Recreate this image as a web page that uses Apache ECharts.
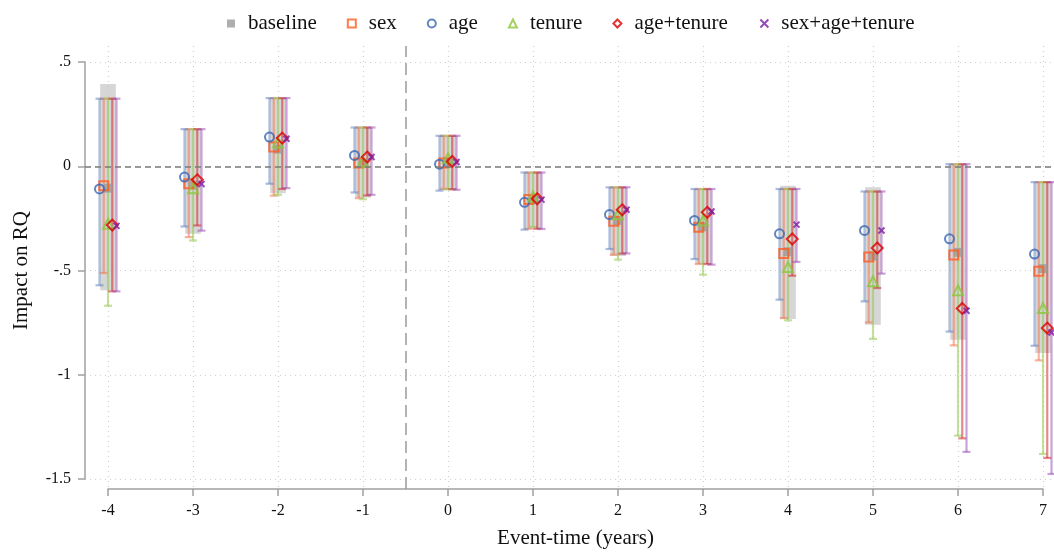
<!DOCTYPE html>
<html><head><meta charset="utf-8">
<script src="https://cdn.jsdelivr.net/npm/echarts@6/dist/echarts.min.js"></script>
<style>html,body{margin:0;padding:0;background:#fff}#c{width:1054px;height:554px}</style>
</head><body><div id="c"></div>
<script>
const times = [-4,-3,-2,-1,0,1,2,3,4,5,6,7];
const yTicks = [-1.5,-1,-0.5,0,0.5];
const yTickLabels = ['-1.5','-1','-.5','0','.5'];
const seriesNames = ['baseline','sex','age','tenure','age+tenure','sex+age+tenure'];

const baselineEst = [-0.105,-0.09,0.082,0.015,0.02,-0.16,-0.26,-0.29,-0.41,-0.43,-0.413,-0.491];
const baselineLo  = [-0.595,-0.324,-0.13,-0.15,-0.115,-0.30,-0.43,-0.47,-0.733,-0.760,-0.832,-0.896];
const baselineHi  = [0.395,0.178,0.327,0.186,0.146,-0.03,-0.10,-0.109,-0.093,-0.101,0.010,-0.076];

const ciHigh = [0.324,0.178,0.327,0.186,0.146,-0.030,-0.101,-0.109,-0.109,-0.121,0.010,-0.076];

const sexEst = [-0.094,-0.084,0.092,0.015,0.015,-0.160,-0.264,-0.292,-0.419,-0.435,-0.426,-0.504];
const sexLo  = [-0.512,-0.340,-0.141,-0.153,-0.108,-0.300,-0.424,-0.469,-0.728,-0.749,-0.859,-0.931];
const ageEst = [-0.109,-0.052,0.140,0.052,0.010,-0.173,-0.232,-0.260,-0.324,-0.308,-0.348,-0.421];
const ageLo  = [-0.571,-0.289,-0.084,-0.126,-0.117,-0.304,-0.397,-0.445,-0.640,-0.648,-0.793,-0.861];
const tenureEst = [-0.276,-0.105,0.114,0.023,0.039,-0.145,-0.230,-0.260,-0.483,-0.552,-0.595,-0.680];
const tenureLo  = [-0.669,-0.356,-0.137,-0.158,-0.110,-0.290,-0.448,-0.520,-0.739,-0.828,-1.292,-1.380];
const ageTenEst = [-0.282,-0.065,0.135,0.044,0.023,-0.156,-0.209,-0.221,-0.349,-0.392,-0.682,-0.776];
const ageTenLo  = [-0.600,-0.284,-0.109,-0.140,-0.110,-0.300,-0.419,-0.469,-0.525,-0.584,-1.305,-1.399];
const allEst = [-0.286,-0.085,0.132,0.044,0.020,-0.160,-0.209,-0.217,-0.280,-0.308,-0.693,-0.797];
const allLo  = [-0.600,-0.309,-0.105,-0.137,-0.113,-0.301,-0.418,-0.472,-0.459,-0.515,-1.370,-1.476];

const FONT = 'Liberation Serif';
const W = 1054, H = 554;
const xLeftPx = 108, xRightPx = 1043, axisLeft = 85;
const pxPerUnit = (xRightPx - xLeftPx) / 11;
const xMin = -4 - (xLeftPx - axisLeft) / pxPerUnit;
const xMax = 7 + (W - xRightPx) / pxPerUnit;

const models = [
  {name:'sex', est:sexEst, lo:sexLo, off:-0.05, color:'#ff5b1f', line:'rgba(244,120,80,0.55)', symbol:'rect', size:9},
  {name:'age', est:ageEst, lo:ageLo, off:-0.10, color:'#3a66b0', line:'rgba(90,125,190,0.5)', symbol:'circle', size:9},
  {name:'tenure', est:tenureEst, lo:tenureLo, off:0.0, color:'#8cc63f', line:'rgba(150,200,80,0.55)', symbol:'triangle', size:10},
  {name:'age+tenure', est:ageTenEst, lo:ageTenLo, off:0.05, color:'#dd0000', line:'rgba(210,40,40,0.55)', symbol:'diamond', size:11},
  {name:'sex+age+tenure', est:allEst, lo:allLo, off:0.10, color:'#7a1fa2', line:'rgba(150,70,180,0.5)', symbol:'path://M0,0L10,10M10,0L0,10', size:6}
];

function ciRender(off, color){
  return function(params, api){
    const t = api.value(0), lo = api.value(1), hi = api.value(2);
    const a = api.coord([t+off, hi]), b = api.coord([t+off, lo]);
    const st = {stroke:color, lineWidth:2.2};
    return {type:'group', children:[
      {type:'line', shape:{x1:a[0],y1:a[1],x2:b[0],y2:b[1]}, style:st},
      {type:'line', shape:{x1:a[0]-4,y1:a[1],x2:a[0]+4,y2:a[1]}, style:st},
      {type:'line', shape:{x1:b[0]-4,y1:b[1],x2:b[0]+4,y2:b[1]}, style:st}
    ]};
  };
}

const series = [];
series.push({type:'line', xAxisIndex:1, yAxisIndex:1, data:[], silent:true,
  markLine:{silent:true, symbol:'none', label:{show:false},
    lineStyle:{color:'#9a9a9a', type:[12,6], width:1.5},
    data:[{xAxis:-0.5}]}});
series.push({type:'custom', name:'baseline-ci', xAxisIndex:0, yAxisIndex:0, z:1,
  data: times.map((t,i)=>[t, baselineLo[i], baselineHi[i]]),
  encode:{x:0, y:[1,2]},
  renderItem:function(params, api){
    const t = api.value(0), lo = api.value(1), hi = api.value(2);
    const a = api.coord([t-0.092, hi]), b = api.coord([t+0.092, lo]);
    return {type:'rect', shape:{x:a[0], y:a[1], width:b[0]-a[0], height:b[1]-a[1]},
      style:{fill:'rgba(200,200,200,0.75)'}};
  },
  markLine:{silent:true, symbol:'none', label:{show:false},
    lineStyle:{color:'#7a7a7a', type:[6,4], width:1.5},
    data:[{yAxis:0}]}
});
models.forEach(m=>{
  series.push({type:'custom', name:m.name+'-ci', xAxisIndex:0, yAxisIndex:0, z:2,
    data: times.map((t,i)=>[t, m.lo[i], ciHigh[i]]),
    encode:{x:0, y:[1,2]},
    renderItem: ciRender(m.off, m.line)});
});
series.push({type:'scatter', name:'baseline', xAxisIndex:0, yAxisIndex:0, z:3,
  symbol:'rect', symbolSize:9,
  itemStyle:{color:'#9a9a9a'},
  data: times.map((t,i)=>[t, baselineEst[i]])});
models.forEach(m=>{
  series.push({type:'scatter', name:m.name, xAxisIndex:0, yAxisIndex:0, z:4,
    symbol:m.symbol, symbolSize:m.size,
    itemStyle:{color:'rgba(255,255,255,0)', borderColor:m.color, borderWidth:2},
    data: times.map((t,i)=>[t+m.off, m.est[i]])});
});

const legendData = [
  {name:'baseline', icon:'rect', itemStyle:{color:'#9a9a9a', borderWidth:0}},
  {name:'sex', icon:'rect', itemStyle:{color:'#fff', borderColor:'#ff5b1f', borderWidth:2}},
  {name:'age', icon:'circle', itemStyle:{color:'#fff', borderColor:'#3a66b0', borderWidth:2}},
  {name:'tenure', icon:'triangle', itemStyle:{color:'#fff', borderColor:'#8cc63f', borderWidth:2}},
  {name:'age+tenure', icon:'diamond', itemStyle:{color:'#fff', borderColor:'#dd0000', borderWidth:2}},
  {name:'sex+age+tenure', icon:'path://M0,0L10,10M10,0L0,10', itemStyle:{color:'none', borderColor:'#7a1fa2', borderWidth:2}}
];

const chart = echarts.init(document.getElementById('c'), null, {renderer:'canvas'});
chart.setOption({
  animation:false,
  backgroundColor:'#fff',
  textStyle:{fontFamily:FONT},
  legend:{left:222, top:8, itemWidth:8, itemHeight:8, itemGap:30,
    data: legendData,
    textStyle:{fontFamily:FONT, fontSize:21, color:'#111', padding:[0,0,0,8]}},
  grid:[
    {left:axisLeft, right:0, top:62, bottom:H-479, containLabel:false},
    {left:xLeftPx, right:W-xRightPx, top:46, bottom:H-493, containLabel:false}
  ],
  xAxis:[
    {type:'value', gridIndex:0, min:xMin, max:xMax, show:false},
    {type:'value', gridIndex:1, min:-4, max:7, interval:1,
      name:'Event-time (years)', nameLocation:'middle', nameGap:39,
      nameTextStyle:{fontFamily:FONT, fontSize:21, color:'#111'},
      axisLine:{show:true, onZero:false, lineStyle:{color:'#a0a0a0', width:1.5}},
      axisTick:{show:true, length:7, lineStyle:{color:'#a0a0a0', width:1.5}},
      axisLabel:{fontFamily:FONT, fontSize:16, color:'#111', margin:14},
      splitLine:{show:true, lineStyle:{color:'#d0d0d0', type:[1,4], width:1.2}}}
  ],
  yAxis:[
    {type:'value', gridIndex:0, min:-1.5, max:0.5, interval:0.5,
      name:'Impact on RQ', nameLocation:'middle', nameGap:53,
      nameTextStyle:{fontFamily:FONT, fontSize:21, color:'#111'},
      axisLine:{show:true, onZero:false, lineStyle:{color:'#a0a0a0', width:1.5}},
      axisTick:{show:true, length:7, lineStyle:{color:'#a0a0a0', width:1.5}},
      axisLabel:{fontFamily:FONT, fontSize:16, color:'#111', margin:14,
        formatter:function(v){ const i = yTicks.findIndex(t=>Math.abs(t-v)<1e-9); return i>=0?yTickLabels[i]:''; }},
      splitLine:{show:true, lineStyle:{color:'#d0d0d0', type:[1,4], width:1.2}}},
    {type:'value', gridIndex:1, min:0, max:1, show:false}
  ],
  series: series
});
</script></body></html>
